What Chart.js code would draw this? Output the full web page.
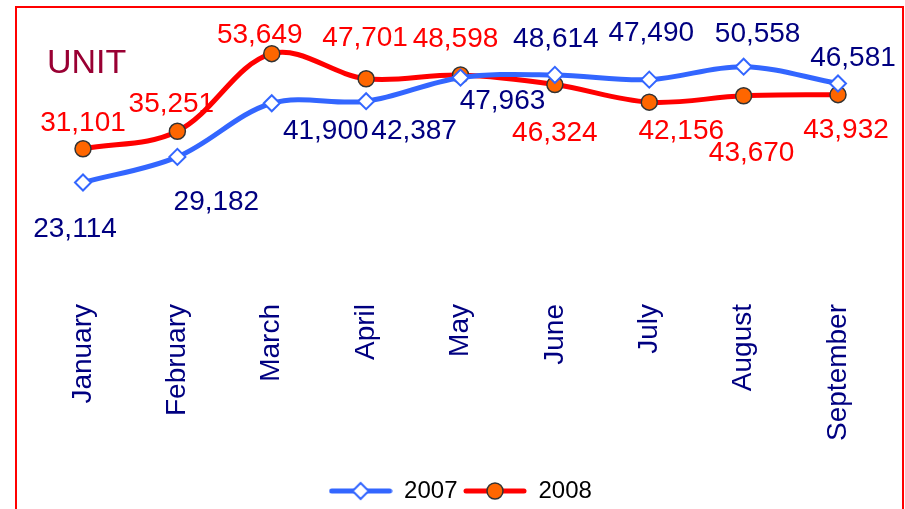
<!DOCTYPE html>
<html>
<head>
<meta charset="utf-8">
<title>Unit sales 2007 / 2008</title>
<script src="https://cdn.jsdelivr.net/npm/chart.js@4.4.0/dist/chart.umd.min.js"></script>
<style>
  html, body { margin: 0; padding: 0; background: #fff; overflow: hidden; }
  #wrap { position: relative; width: 905px; height: 509px; overflow: hidden; }
  #frame { position: absolute; left: 15px; top: 6px; width: 889px; height: 530px; border: 2px solid #ff0000; box-sizing: border-box; }
  #chart { position: absolute; left: 0; top: 0; }
</style>
</head>
<body>
<div id="wrap">
  <div id="frame"></div>
  <canvas id="chart" width="905" height="513"></canvas>
</div>
<script>
// data
var months = ['January', 'February', 'March', 'April', 'May', 'June', 'July', 'August', 'September'];
var seriesNames = ['2007', '2008'];
var units2007 = [23114, 29182, 41900, 42387, 47963, 48614, 47490, 50558, 46581];
var units2008 = [31101, 35251, 53649, 47701, 48598, 46324, 42156, 43670, 43932];
var unitTitle = 'UNIT';

// where each value label sits relative to its point (px)
var labelShift2007 = [[-8, 47], [39, 45], [54, 28], [48, 30], [42, 24], [1, -36], [2, -46], [14, -32], [15, -25]];
var labelShift2008 = [[0, -26], [-6, -27], [-12, -18], [-1, -40], [-5, -36], [0, 49], [32, 29], [8, 58], [8, 36]];

var fontFamily = '"Liberation Sans", Arial, sans-serif';
var blue = '#3366ff';
var red = '#ff0000';

// legend icon: short line with the marker in the middle
function legendIcon(color, marker) {
  var c = document.createElement('canvas');
  c.width = 64;
  c.height = 20;
  var g = c.getContext('2d');
  g.strokeStyle = color;
  g.lineWidth = 5;
  g.lineCap = 'round';
  g.beginPath();
  g.moveTo(3, 10);
  g.lineTo(61, 10);
  g.stroke();
  marker(g, 32, 10);
  return c;
}

var icon2007 = legendIcon(blue, function (g, x, y) {
  g.beginPath();
  g.moveTo(x, y - 8); g.lineTo(x + 8, y); g.lineTo(x, y + 8); g.lineTo(x - 8, y); g.closePath();
  g.fillStyle = '#fff'; g.fill();
  g.lineWidth = 2; g.strokeStyle = blue; g.stroke();
});
var icon2008 = legendIcon(red, function (g, x, y) {
  g.beginPath();
  g.arc(x, y, 8, 0, Math.PI * 2);
  g.fillStyle = '#ff6600'; g.fill();
  g.lineWidth = 1.5; g.strokeStyle = '#333'; g.stroke();
});

// value labels + UNIT text
var valueLabels = {
  id: 'valueLabels',
  afterDatasetsDraw: function (chart) {
    var ctx = chart.ctx;
    ctx.save();
    ctx.font = '28px ' + fontFamily;
    ctx.textAlign = 'center';
    ctx.textBaseline = 'middle';
    chart.data.datasets.forEach(function (ds, i) {
      var meta = chart.getDatasetMeta(i);
      meta.data.forEach(function (pt, j) {
        var s = ds.labelShift[j];
        ctx.fillStyle = ds.labelColor;
        ctx.fillText(ds.data[j].toLocaleString('en-US'), pt.x + s[0], pt.y + s[1]);
      });
    });
    ctx.font = '34px ' + fontFamily;
    ctx.textAlign = 'left';
    ctx.textBaseline = 'alphabetic';
    ctx.fillStyle = '#990033';
    ctx.fillText(unitTitle, 47, 73);
    ctx.restore();
  }
};

new Chart(document.getElementById('chart'), {
  type: 'line',
  data: {
    labels: months,
    datasets: [
      {
        label: seriesNames[0],
        data: units2007,
        borderColor: blue,
        borderWidth: 5,
        tension: 0.35,
        pointStyle: 'rectRot',
        pointRadius: 8,
        pointBackgroundColor: '#fff',
        pointBorderColor: blue,
        pointBorderWidth: 2,
        labelColor: '#000080',
        labelShift: labelShift2007
      },
      {
        label: seriesNames[1],
        data: units2008,
        borderColor: red,
        borderWidth: 5,
        tension: 0.35,
        pointStyle: 'circle',
        pointRadius: 8,
        pointBackgroundColor: '#ff6600',
        pointBorderColor: '#333',
        pointBorderWidth: 1.5,
        labelColor: '#ff0000',
        labelShift: labelShift2008
      }
    ]
  },
  options: {
    responsive: false,
    animation: false,
    layout: { padding: { left: 83, right: 67, top: 9, bottom: 0 } },
    plugins: {
      tooltip: { enabled: false },
      legend: {
        position: 'bottom',
        labels: {
          usePointStyle: true,
          pointStyleWidth: 63,
          padding: 6,
          color: '#000',
          font: { size: 24, family: fontFamily },
          generateLabels: function (chart) {
            return chart.data.datasets.map(function (ds, i) {
              return {
                text: ds.label,
                pointStyle: i === 0 ? icon2007 : icon2008,
                fillStyle: 'transparent',
                strokeStyle: 'transparent',
                lineWidth: 0,
                fontColor: '#000',
                datasetIndex: i
              };
            });
          }
        }
      }
    },
    scales: {
      x: {
        offset: false,
        grid: { display: false },
        border: { display: false },
        ticks: {
          minRotation: 90,
          maxRotation: 90,
          padding: 16,
          color: '#000080',
          font: { size: 28, family: fontFamily }
        },
        afterFit: function (scale) { scale.height = 193; }
      },
      y: { display: false, min: 0, max: 64000 }
    }
  },
  plugins: [valueLabels]
});
</script>
</body>
</html>
